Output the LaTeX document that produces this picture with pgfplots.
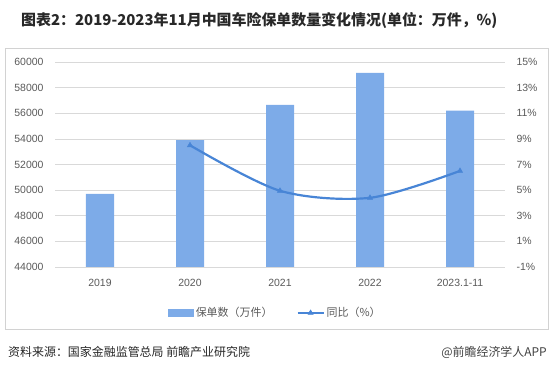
\documentclass[border=0pt]{standalone}
\usepackage{pgfplots}
\pgfplotsset{compat=1.18}
\usepackage{fontspec}
\setmainfont{Liberation Sans}
\newfontfamily\cjk{Noto Sans CJK SC}
\definecolor{barc}{RGB}{125,171,232}
\definecolor{linec}{RGB}{72,133,214}
\definecolor{gridc}{RGB}{217,217,217}
\definecolor{framec}{RGB}{210,210,210}
\definecolor{tickc}{RGB}{89,89,89}
\definecolor{titlec}{RGB}{40,40,40}
\begin{document}
\begin{tikzpicture}
\useasboundingbox (0bp,0bp) rectangle (552bp,373bp);
\draw[framec] (5bp,44bp) rectangle (548bp,325bp);
\node[anchor=base west, inner sep=0, text=titlec, font=\cjk\bfseries\fontsize{15}{18}\selectfont] at (21bp,347bp) {图表2：2019-2023年11月中国车险保单数量变化情况(单位：万件，\%)};
\node[anchor=base west, inner sep=0, text=black!85, font=\cjk\fontsize{12}{14}\selectfont] at (8bp,17bp) {资料来源：国家金融监管总局 前瞻产业研究院};
\node[anchor=base east, inner sep=0, text=black!75, font=\cjk\fontsize{12}{14}\selectfont] at (547bp,17bp) {@前瞻经济学人APP};
\begin{axis}[
  at={(55bp,106bp)}, anchor=south west, scale only axis,
  width=450bp, height=205bp,
  xmin=-0.5, xmax=4.5, ymin=44000, ymax=60000,
  ytick={44000,46000,...,60000},
  xtick={0,1,2,3,4}, xticklabels={2019,2020,2021,2022,2023.1-11},
  ymajorgrids, grid style={gridc, line width=0.6bp},
  axis line style={draw=none}, major tick style={draw=none},
  ybar, bar width=28bp,
  scaled y ticks=false,
  /pgf/number format/.cd, 1000 sep={}, assume math mode=true, /pgfplots/.cd,
  tick label style={font=\fontsize{10.5}{12}\selectfont, text=tickc},
  yticklabel style={xshift=-8bp},
  xticklabel style={yshift=-4bp},
]
\addplot[fill=barc, draw=none] coordinates {(0,49700) (1,53900) (2,56650) (3,59150) (4,56200)};
\end{axis}
\begin{axis}[
  at={(55bp,106bp)}, anchor=south west, scale only axis,
  width=450bp, height=205bp,
  xmin=-0.5, xmax=4.5, ymin=-1, ymax=15,
  ytick={-1,1,...,15},
  axis y line*=right, axis x line=none,
  axis line style={draw=none}, major tick style={draw=none},
  /pgf/number format/.cd, assume math mode=true, /pgfplots/.cd,
  yticklabel={\pgfmathprintnumber{\tick}\%},
  tick label style={font=\fontsize{10.5}{12}\selectfont, text=tickc},
  yticklabel style={xshift=8bp},
  legend style={at={(0.49,-0.224)}, anchor=center, draw=none, fill=none,
    legend columns=2, font=\cjk\fontsize{11}{13}\selectfont, text=tickc,
    /tikz/every even column/.append style={column sep=22bp}},
  legend cell align=left,
]
\addlegendimage{legend image code/.code={\fill[barc] (0bp,-3.5bp) rectangle (25bp,3.5bp);}}
\addlegendentry{保单数（万件）}
\addplot[linec, line width=2.2bp, smooth, mark=triangle*, mark size=3bp,
  mark options={fill=linec, line width=0.5bp},
  legend image code/.code={\draw[linec, line width=2.2bp] (0bp,0bp) -- (26bp,0bp); \draw[linec, fill=linec, line width=0.5bp] plot[mark=triangle*, mark size=3bp] coordinates {(13bp,0bp)};}]
  coordinates {(1,8.5) (2,4.95) (3,4.4) (4,6.5)};
\addlegendentry{同比（\%）}
\end{axis}
\end{tikzpicture}
\end{document}
